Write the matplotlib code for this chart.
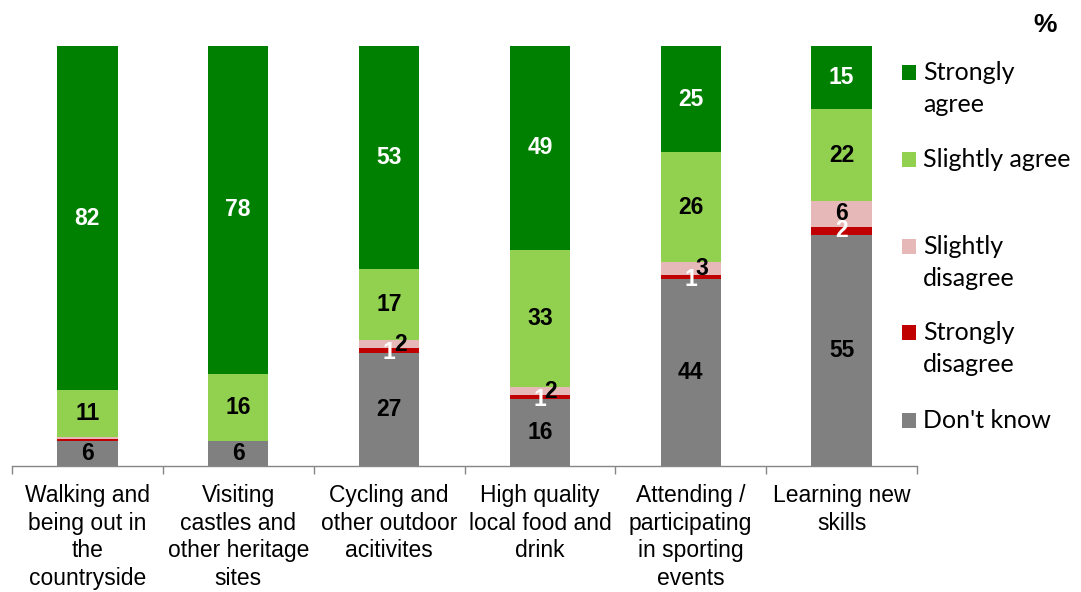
import matplotlib
matplotlib.use("Agg")
import matplotlib.pyplot as plt
from matplotlib.patches import Rectangle
import numpy as np

categories = [
    "Walking and\nbeing out in\nthe\ncountryside",
    "Visiting\ncastles and\nother heritage\nsites",
    "Cycling and\nother outdoor\nacitivites",
    "High quality\nlocal food and\ndrink",
    "Attending /\nparticipating\nin sporting\nevents",
    "Learning new\nskills",
]
dont_know = [6, 6, 27, 16, 44, 55]
strongly_disagree = [0.4, 0, 1, 1, 1, 2]
slightly_disagree = [0.6, 0, 2, 2, 3, 6]
slightly_agree = [11, 16, 17, 33, 26, 22]
strongly_agree = [82, 78, 53, 49, 25, 15]
series_names = ["Don't know", "Strongly disagree", "Slightly disagree",
                "Slightly agree", "Strongly agree"]
legend_labels = ["Strongly\nagree", "Slightly agree", "Slightly\ndisagree",
                 "Strongly\ndisagree", "Don't know"]

colors = ["#808080", "#C00000", "#E6B9B8", "#92D050", "#008000"]
label_colors = ["black", "white", "black", "black", "white"]

series = np.array([dont_know, strongly_disagree, slightly_disagree,
                   slightly_agree, strongly_agree], dtype=float)
totals = series.sum(axis=0)
pct = series / totals * 100

W, H = 1081, 592
fig = plt.figure(figsize=(W / 100, H / 100), dpi=100)
ax = fig.add_axes([12 / W, 1 - 466 / H, (917 - 12) / W, (466 - 46) / H])

x = np.arange(len(categories))
bottom = np.zeros(len(categories))
for i in range(len(series)):
    ax.bar(x, pct[i], 0.4, bottom=bottom, color=colors[i], linewidth=0)
    for j in range(len(categories)):
        v = series[i, j]
        if v >= 1:
            dx = 0
            dy = 0
            if i == 2 and v < 5:
                dx = 8
            if i == 1 and v < 2:
                dy = -1.5
            ax.annotate(f"{v:.0f}", (x[j], bottom[j] + pct[i, j] / 2),
                        xytext=(dx, dy), textcoords="offset points",
                        ha="center", va="center", fontsize=16.5,
                        fontweight="bold", color=label_colors[i],
                        family="Liberation Sans")
    bottom += pct[i]

ax.set_xlim(-0.5, len(categories) - 0.5)
ax.set_ylim(0, 100)
for s in ["top", "right", "left"]:
    ax.spines[s].set_visible(False)
ax.spines["bottom"].set_color("#868686")
ax.spines["bottom"].set_linewidth(1)
ax.set_yticks([])
ax.set_xticks(x)
ax.set_xticklabels(categories, fontsize=16.5, family="Liberation Sans",
                   linespacing=1.25)
ax.set_xticks(np.arange(-0.5, len(categories)), minor=True)
ax.tick_params(axis="x", which="major", length=0, pad=13)
ax.tick_params(axis="x", which="minor", length=6, color="#868686", width=1)

# legend (manual, squares aligned to the first text line)
legend_order = [4, 3, 2, 1, 0]
baselines = [80, 167, 254, 340, 428]
for k, si in enumerate(legend_order):
    b = baselines[k]
    fig.patches.append(Rectangle((902 / W, 1 - b / H), 14 / W, 15 / H,
                                 transform=fig.transFigure,
                                 facecolor=colors[si], edgecolor="none"))
    for li, line in enumerate(legend_labels[k].split("\n")):
        fig.text(923 / W, 1 - (b + li * 31.5) / H, line, fontsize=18,
                 family="Lato", ha="left", va="baseline")

fig.text(1045 / W, 1 - 32 / H, "%", fontsize=19, fontweight="bold",
         family="Liberation Sans", ha="center", va="baseline")

fig.savefig("out.png", dpi=100)
